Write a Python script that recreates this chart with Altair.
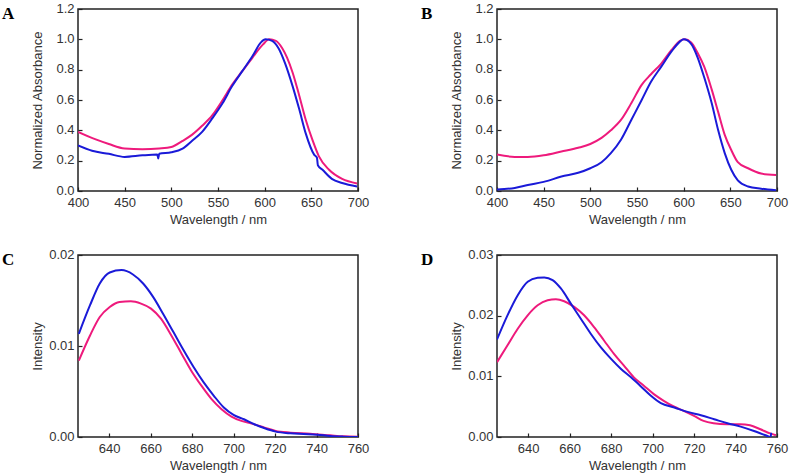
import altair as alt
import pandas as pd

PINK = "#ee1a7c"
BLUE = "#1a1ad8"

# ---------- Panel A (absorbance) ----------
a_pink_x = [400, 419, 433, 450, 469, 487, 500, 512, 522, 533, 544, 555, 565, 576, 587, 598, 605, 612, 619, 624, 630, 637, 644, 651, 658, 669, 683, 699]
a_pink_y = [0.39, 0.34, 0.31, 0.28, 0.275, 0.28, 0.29, 0.33, 0.37, 0.43, 0.50, 0.60, 0.70, 0.79, 0.88, 0.965, 1.0, 0.99, 0.94, 0.88, 0.78, 0.63, 0.47, 0.34, 0.23, 0.14, 0.08, 0.05]
a_blue_x = [400, 415, 433, 450, 469, 485, 486, 487, 500, 512, 522, 533, 544, 555, 565, 576, 587, 596, 601, 608, 615, 622, 630, 637, 644, 653, 656, 657, 662, 672, 683, 699]
a_blue_y = [0.30, 0.265, 0.245, 0.225, 0.235, 0.24, 0.215, 0.245, 0.255, 0.28, 0.33, 0.39, 0.48, 0.58, 0.69, 0.79, 0.89, 0.98, 1.0, 0.99, 0.94, 0.84, 0.69, 0.54, 0.38, 0.24, 0.22, 0.17, 0.14, 0.08, 0.053, 0.03]

# ---------- Panel B (absorbance) ----------
b_pink_x = [400, 419, 433, 450, 469, 487, 500, 512, 522, 533, 544, 555, 565, 576, 587, 596, 601, 608, 615, 622, 630, 637, 644, 651, 658, 669, 683, 699]
b_pink_y = [0.24, 0.225, 0.225, 0.235, 0.26, 0.285, 0.31, 0.35, 0.40, 0.47, 0.58, 0.70, 0.77, 0.84, 0.93, 0.99, 1.0, 0.98, 0.91, 0.82, 0.67, 0.52, 0.37, 0.27, 0.19, 0.15, 0.115, 0.105]
b_blue_x = [400, 419, 433, 450, 469, 487, 500, 512, 522, 533, 544, 555, 565, 576, 587, 596, 600, 608, 615, 622, 630, 637, 644, 651, 658, 669, 683, 699]
b_blue_y = [0.01, 0.02, 0.04, 0.06, 0.095, 0.12, 0.15, 0.19, 0.25, 0.34, 0.47, 0.60, 0.72, 0.82, 0.92, 0.985, 1.0, 0.97, 0.88, 0.75, 0.58, 0.40, 0.25, 0.14, 0.07, 0.03, 0.015, 0.005]

# ---------- Panel C (emission) ----------
c_blue_x = [625.4, 630.8, 635.5, 640.3, 646, 651.5, 656.4, 661.2, 666, 671, 676, 680.8, 685.6, 690.5, 695.3, 700, 705, 710, 715, 720.3, 727.4, 733.8, 740.3, 746.7, 753, 760]
c_blue_y = [0.01134, 0.01448, 0.01687, 0.01808, 0.01834, 0.01786, 0.01687, 0.0154, 0.01355, 0.01153, 0.0095, 0.00766, 0.0060, 0.00453, 0.00324, 0.00243, 0.00195, 0.0014, 0.00096, 0.00059, 0.0004, 0.00033, 0.00026, 0.00011, 0.00004, 0.0]
c_pink_x = [625.4, 630.8, 635.5, 640.3, 645, 650.5, 655.4, 660.2, 665, 670, 675, 679.6, 684.5, 689.4, 694.2, 699, 703.8, 708.7, 715, 720.3, 727.4, 737, 746.7, 753, 760]
c_pink_y = [0.0084, 0.01116, 0.01319, 0.01429, 0.01484, 0.01492, 0.01466, 0.01411, 0.0130, 0.01116, 0.00913, 0.00729, 0.00564, 0.00416, 0.00306, 0.00225, 0.00177, 0.00147, 0.00103, 0.00066, 0.00048, 0.00037, 0.00018, 0.00007, 0.00004]

# ---------- Panel D (emission) ----------
d_blue_x = [625, 630, 635, 639.8, 644.6, 647.8, 651.8, 655.8, 660.6, 665.4, 670.2, 675, 680, 684.8, 689.6, 694.4, 699.2, 704, 710.5, 716.9, 723.3, 729.7, 736.1, 742.5, 748.9, 754.5, 757, 757.2]
d_blue_y = [0.01608, 0.0200, 0.02337, 0.02558, 0.02624, 0.0263, 0.02586, 0.02448, 0.02199, 0.0195, 0.01702, 0.01481, 0.01287, 0.01122, 0.00983, 0.00834, 0.0068, 0.00558, 0.00486, 0.00414, 0.00359, 0.00293, 0.00227, 0.00171, 0.001, 0.00028, 0.0, 0.0007]
d_pink_x = [625, 630, 635, 639.8, 644.6, 649.4, 653.4, 657.4, 662.2, 667, 671.8, 676.6, 681.4, 686.2, 691, 695.8, 700.6, 705.4, 710.2, 715, 720, 724.6, 729.4, 735.8, 742.2, 747, 752, 756.6, 759.5]
d_pink_y = [0.01232, 0.01508, 0.01785, 0.02006, 0.02171, 0.02254, 0.02271, 0.02238, 0.02144, 0.02006, 0.01812, 0.01591, 0.0137, 0.01177, 0.00983, 0.00845, 0.00707, 0.00597, 0.00503, 0.00431, 0.00348, 0.00265, 0.00227, 0.0021, 0.0021, 0.00193, 0.00127, 0.0006, 0.00028]

abs_ticks = [0.0, 0.2, 0.4, 0.6, 0.8, 1.0, 1.2]
abs_x_ticks = [400, 450, 500, 550, 600, 650, 700]
em_x_ticks = [640, 660, 680, 700, 720, 740, 760]
c_y_ticks = [0.0, 0.01, 0.02]
d_y_ticks = [0.0, 0.01, 0.02, 0.03]

W, H = 280, 182
FONT = "Liberation Sans"


def frame(df_list):
    rows = []
    for name, xs, ys in df_list:
        for i, (x, y) in enumerate(zip(xs, ys)):
            rows.append({"series": name, "wl": x, "val": y, "order": i})
    return pd.DataFrame(rows)


def panel(letter, data, xdom, xticks, ydom, yticks, yfmt, ytitle):
    df = frame(data)
    xaxis = alt.Axis(values=xticks, format="d", title="Wavelength / nm", grid=False,
                     domain=False, offset=-4, tickSize=4, tickWidth=1.2, tickColor="#222",
                     labelPadding=5, labelFont=FONT, labelFontSize=13, labelColor="#333",
                     titleFont=FONT, titleFontSize=13, titleFontWeight="normal",
                     titleColor="#333", titlePadding=4, labelFlush=False)
    yaxis = alt.Axis(values=yticks, format=yfmt, title=ytitle, grid=False,
                     domain=False, offset=-4, tickSize=4, tickWidth=1.2, tickColor="#222",
                     labelPadding=4, labelFont=FONT, labelFontSize=13, labelColor="#333",
                     labelOffset=-1,
                     titleFont=FONT, titleFontSize=13, titleFontWeight="normal",
                     titleColor="#333", titleX=-38, titleY=H / 2,
                     labelFlush=False)
    lines = alt.Chart(df).mark_line(strokeWidth=2, clip=True, interpolate="monotone").encode(
        x=alt.X("wl:Q", scale=alt.Scale(domain=xdom, nice=False, zero=False), axis=xaxis),
        y=alt.Y("val:Q", scale=alt.Scale(domain=ydom, nice=False, zero=False), axis=yaxis),
        color=alt.Color("series:N", scale=alt.Scale(domain=["pink", "blue"], range=[PINK, BLUE]), legend=None),
        order="order:Q",
        detail="series:N",
    )
    lab = alt.Chart(pd.DataFrame({"t": [letter]})).mark_text(
        font="Liberation Serif", fontWeight="bold", fontSize=17, align="left",
        baseline="alphabetic", color="#000"
    ).encode(x=alt.value(-76), y=alt.value(10), text="t:N")
    return alt.layer(lines, lab).properties(width=W, height=H)


pA = panel("A", [("pink", a_pink_x, a_pink_y), ("blue", a_blue_x, a_blue_y)],
           [400, 700], abs_x_ticks, [0, 1.2], abs_ticks, ".1f", "Normalized Absorbance")
pB = panel("B", [("pink", b_pink_x, b_pink_y), ("blue", b_blue_x, b_blue_y)],
           [400, 700], abs_x_ticks, [0, 1.2], abs_ticks, ".1f", "Normalized Absorbance")
pC = panel("C", [("pink", c_pink_x, c_pink_y), ("blue", c_blue_x, c_blue_y)],
           [625, 760], em_x_ticks, [0, 0.02], c_y_ticks, ".2f", "Intensity")
pD = panel("D", [("pink", d_pink_x, d_pink_y), ("blue", d_blue_x, d_blue_y)],
           [625, 760], em_x_ticks, [0, 0.03], d_y_ticks, ".2f", "Intensity")

chart = alt.concat(pA, pB, pC, pD, columns=2, spacing={"row": 20, "column": 50}).properties(
    padding={"left": 1, "top": 1, "right": 0, "bottom": 0},
    background="white",
).configure_view(stroke="#222", strokeWidth=1.5)

chart.save("out.html", embed_options={"renderer": "svg", "actions": False})
